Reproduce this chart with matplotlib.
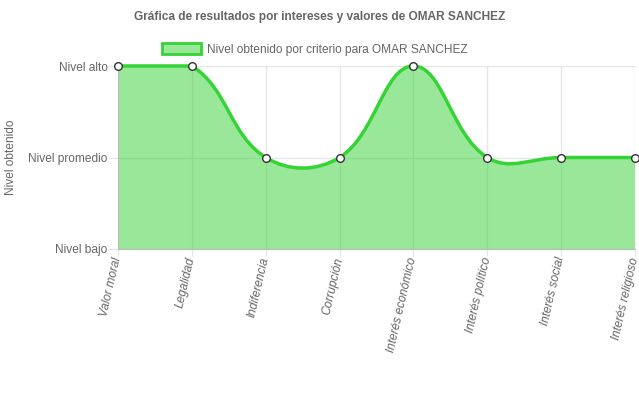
import numpy as np
import matplotlib
matplotlib.use("Agg")
import matplotlib.pyplot as plt
import matplotlib.transforms as mtransforms
from matplotlib.path import Path
from matplotlib.patches import PathPatch, Patch

categories = ["Valor moral", "Legalidad", "Indiferencia", "Corrupción",
              "Interés económico", "Interés político", "Interés social", "Interés religioso"]
values = [3, 3, 2, 2, 3, 2, 2, 2]
level_ticks = [1, 2, 3]
level_labels = ["Nivel bajo", "Nivel promedio", "Nivel alto"]
series_name = "Nivel obtenido por criterio para OMAR SANCHEZ"
title = "Gráfica de resultados por intereses y valores de OMAR SANCHEZ"

plt.rcParams['font.family'] = ['Liberation Sans', 'DejaVu Sans']
txt = '#666666'
line_c = (53/255, 211/255, 53/255)
fill_c = (53/255, 211/255, 53/255, 0.5)
grid_c = '#e6e6e6'
fs = 8.6

W, H = 639, 396
fig = plt.figure(figsize=(W/100, H/100), dpi=100)
ax = fig.add_axes([118/W, 1-249/H, (635-118)/W, (249-66)/H])
n = len(values)
xs = np.arange(n)
ax.set_xlim(0, n-1)
ax.set_ylim(level_ticks[0], level_ticks[-1])

# Chart.js-like spline (tension 0.4) in display space
pts = ax.transData.transform(np.column_stack([xs, values]).astype(float))
bb = ax.bbox
t = 0.4
cp_prev = np.zeros_like(pts)
cp_next = np.zeros_like(pts)
for i in range(n):
    cur = pts[i]
    prv = pts[i-1] if i > 0 else cur
    nxt = pts[i+1] if i < n-1 else cur
    d01 = np.hypot(*(cur-prv)); d12 = np.hypot(*(nxt-cur))
    s = d01 + d12
    s01 = d01/s if s else 0; s12 = d12/s if s else 0
    cp_prev[i] = cur - t*s01*(nxt-prv)
    cp_next[i] = cur + t*s12*(nxt-prv)
for arr in (cp_prev, cp_next):
    arr[:, 0] = np.clip(arr[:, 0], bb.x0, bb.x1)
    arr[:, 1] = np.clip(arr[:, 1], bb.y0, bb.y1)
inv = ax.transData.inverted()
verts = [pts[0]]; codes = [Path.MOVETO]
for i in range(1, n):
    verts += [cp_next[i-1], cp_prev[i], pts[i]]
    codes += [Path.CURVE4]*3
verts = inv.transform(np.array(verts))
line_path = Path(verts, codes)
fill_verts = np.vstack([verts, [[xs[-1], level_ticks[0]], [xs[0], level_ticks[0]], verts[0]]])
fill_codes = codes + [Path.LINETO, Path.LINETO, Path.CLOSEPOLY]

ax.add_patch(PathPatch(Path(fill_verts, fill_codes), facecolor=fill_c, edgecolor='none', zorder=2))
ax.add_patch(PathPatch(line_path, facecolor='none', edgecolor=line_c, lw=2.5, zorder=3, clip_on=False))
ax.plot(xs, values, 'o', ms=5.5, mfc='white', mec='#333333', mew=1.0, zorder=4, clip_on=False)

ax.set_xticks(xs)
ax.set_xticklabels(categories, rotation=77, ha='right', va='center', rotation_mode='anchor',
                   fontsize=fs, color=txt, style='italic')
offset = mtransforms.ScaledTranslation(2.5/100, 0, fig.dpi_scale_trans)
for lab in ax.get_xticklabels():
    lab.set_transform(lab.get_transform() + offset)
ax.set_yticks(level_ticks)
ax.set_yticklabels(level_labels, fontsize=fs, color=txt)
ax.tick_params(axis='y', length=7, width=1, color=grid_c, pad=0.5)
ax.tick_params(axis='x', length=5, width=1, color=grid_c, pad=1)
ax.grid(True, color=grid_c, lw=1, alpha=1)
ax.set_axisbelow(True)
for s in ['top', 'right']:
    ax.spines[s].set_visible(False)
ax.spines['left'].set_color('#bbbbbb')
ax.spines['bottom'].set_color('#bbbbbb')
fig.text(11/W, 1-157/H, "Nivel obtenido", rotation=90, ha='center', va='center', fontsize=fs, color=txt)
fig.text(0.5, 1-17/H, title, ha='center', va='center', fontsize=fs, color=txt, weight='bold')
fig.legend(handles=[Patch(facecolor=fill_c, edgecolor=line_c, lw=2)], labels=[series_name],
           loc='center', bbox_to_anchor=(315/W, 1-49.5/H), frameon=False, fontsize=fs,
           handlelength=3.3, handleheight=1.0, handletextpad=0.5, labelcolor=txt)
fig.savefig("out.png", dpi=100)
